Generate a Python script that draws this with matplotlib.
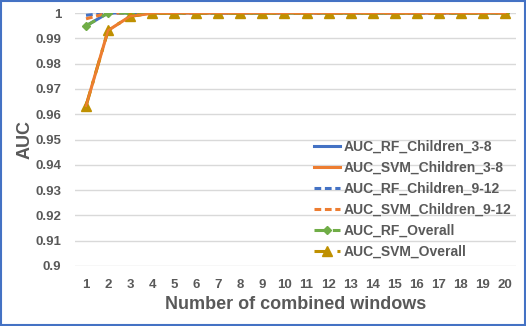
import numpy as np
import matplotlib.pyplot as plt
from matplotlib.patches import Rectangle

plt.rcParams['font.family'] = ['Liberation Sans', 'DejaVu Sans']

##data
windows = list(range(1, 21))
rf_child_3_8 = [0.9949, 1.0] + [1.0] * 18
svm_child_3_8 = [0.9633, 0.9931, 0.9987, 0.9999] + [1.0] * 16
rf_child_9_12 = [0.9991, 1.0] + [1.0] * 18
svm_child_9_12 = [0.9977, 1.0] + [1.0] * 18
rf_overall = [0.9949, 1.0] + [1.0] * 18
svm_overall = [0.9633, 0.9931, 0.9987, 0.9999] + [1.0] * 16

grey = '#595959'
fig = plt.figure(figsize=(5.26, 3.26), dpi=100)
ax = fig.add_axes([75 / 526, 1 - 266 / 326, 441 / 526, 253 / 326])

ax.plot(windows, rf_child_3_8, color='#4472C4', lw=2.2, label='AUC_RF_Children_3-8')
ax.plot(windows, svm_child_3_8, color='#ED7D31', lw=2.2, label='AUC_SVM_Children_3-8')
ax.plot(windows, rf_child_9_12, color='#4472C4', lw=2.2, ls=(0, (2.2, 1.2)), label='AUC_RF_Children_9-12')
ax.plot(windows, svm_child_9_12, color='#ED7D31', lw=2.2, ls=(0, (2.2, 1.2)), label='AUC_SVM_Children_9-12')
ax.plot(windows, rf_overall, color='#70AD47', lw=2.2, ls=(0, (3.5, 2.5)), marker='D', ms=4.5,
        label='AUC_RF_Overall')
ax.plot(windows, svm_overall, color='#BF9000', lw=2.2, ls=(0, (5, 2.5, 1, 2.5)), marker='^', ms=7,
        label='AUC_SVM_Overall')
# orange line sits over the gold one in the reference
ax.plot(windows, svm_child_3_8, color='#ED7D31', lw=1.6, zorder=2.5)

ax.set_xlim(0.5, 20.5)
ax.set_ylim(0.9, 1.0)
ax.set_xticks(windows)
ax.set_yticks(np.round(np.arange(0.9, 1.0001, 0.01), 2))
ax.set_yticklabels(['0.9', '0.91', '0.92', '0.93', '0.94', '0.95', '0.96', '0.97', '0.98', '0.99', '1'])
ax.grid(axis='y', color='#D9D9D9', lw=1)
ax.set_axisbelow(True)
for s in ax.spines.values():
    s.set_visible(False)
ax.tick_params(length=0, labelsize=9.5, labelcolor=grey)
ax.tick_params(axis='y', pad=10)
ax.tick_params(axis='x', pad=9)
for t in ax.get_xticklabels() + ax.get_yticklabels():
    t.set_fontweight('bold')
ax.set_xlabel('Number of combined windows', fontsize=13, fontweight='bold', color=grey, labelpad=4)
ax.set_ylabel('AUC', fontsize=13, fontweight='bold', color=grey, labelpad=1)

leg = ax.legend(loc='upper left', bbox_to_anchor=(0.542, 0.498), frameon=False,
                prop={'size': 10, 'weight': 'bold'}, handlelength=1.9, handletextpad=0.22,
                labelspacing=0.5, borderaxespad=0, borderpad=0)
for t in leg.get_texts():
    t.set_color(grey)

fig.patches.append(Rectangle((0.002, 0.003), 0.996, 0.994, transform=fig.transFigure,
                             fill=False, edgecolor='#4472C4', lw=1.5))

fig.savefig('out.png', dpi=100)
